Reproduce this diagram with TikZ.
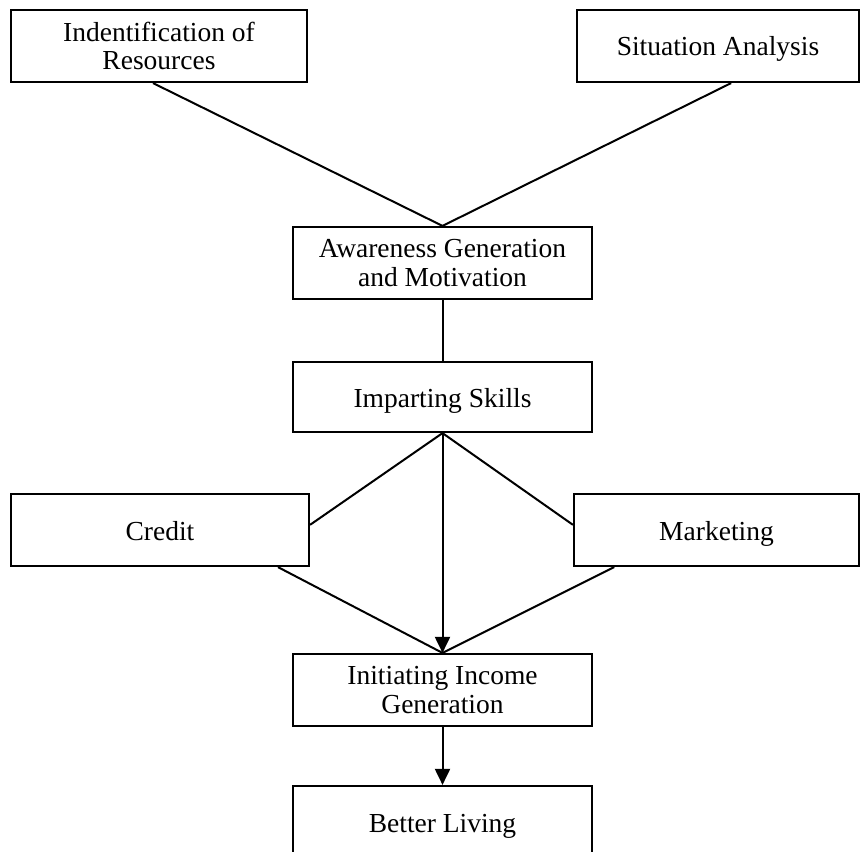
\documentclass[tikz,border=0pt]{standalone}
\usepackage{fontspec}
\setmainfont{Liberation Serif}
\usetikzlibrary{arrows.meta,calc}
\newcommand\boxstrut{\rule[-6pt]{0pt}{32pt}}
\begin{document}
\begin{tikzpicture}[x=1pt,y=-1pt,
  box/.style={draw=black,line width=2.2pt,rectangle,inner sep=0pt,align=center,
    font=\fontsize{27.5}{28.5}\selectfont,minimum height=72pt},
  conn/.style={draw=black,line width=2pt},
  arr/.style={conn,-{Triangle[length=16pt,width=15pt]}}]
\useasboundingbox (0,0) rectangle (861,851);
\clip (0,0) rectangle (861,851);
\node[box,minimum width=296pt] (ident) at (159,46) {Indentification of\\Resources};
\node[box,minimum width=282pt] (sit) at (718,46) {\boxstrut Situation Analysis};
\node[box,minimum width=299pt] (aware) at (442.5,263) {Awareness Generation\\and Motivation};
\node[box,minimum width=299pt,minimum height=70pt] (impart) at (442.5,397) {\boxstrut Imparting Skills};
\node[box,minimum width=298pt] (credit) at (160,530) {\boxstrut Credit};
\node[box,minimum width=285pt] (market) at (716.5,530) {\boxstrut Marketing};
\node[box,minimum width=299pt] (init) at (442.5,690) {Initiating Income\\Generation};
\node[box,minimum width=299pt] (better) at (442.5,822) {\boxstrut Better Living};
\draw[conn] ($(ident.south west)!0.48!(ident.south east)$) -- (aware.north);
\draw[conn] ($(sit.south west)!0.546!(sit.south east)$) -- (aware.north);
\draw[conn] (aware.south) -- (impart.north);
\draw[conn] (impart.south) -- ($(credit.north east)!0.43!(credit.south east)$);
\draw[conn] (impart.south) -- ($(market.north west)!0.43!(market.south west)$);
\draw[arr] (impart.south) -- (init.north);
\draw[conn] ($(credit.south west)!0.893!(credit.south east)$) -- (init.north);
\draw[conn] ($(market.south west)!0.144!(market.south east)$) -- (init.north);
\draw[arr] (init.south) -- (better.north);
\end{tikzpicture}
\end{document}
